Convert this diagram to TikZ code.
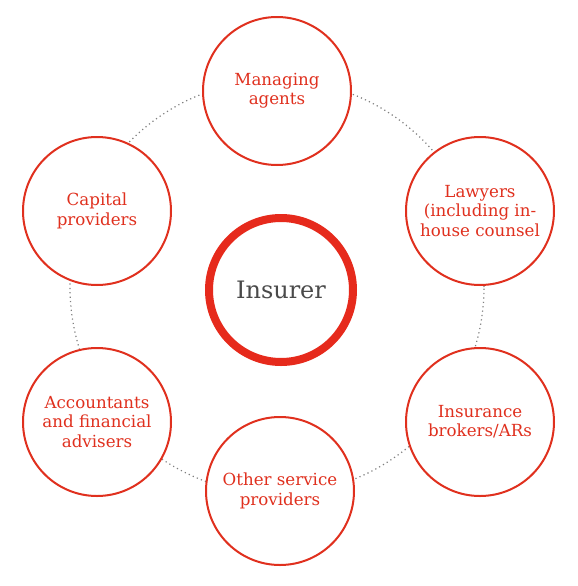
\documentclass[tikz,border=0pt]{standalone}
\usepackage{fontspec}
\setmainfont{DejaVu Serif}
\usepackage{xcolor}
\usetikzlibrary{positioning}

\definecolor{partyred}{HTML}{E0301E}
\definecolor{hubred}{HTML}{E62A1C}
\definecolor{hubgrey}{HTML}{4A4A4A}

\begin{document}
\begin{tikzpicture}[
    x=0.75pt,
    y=-0.75pt,
    party/.style={
        circle,
        draw=partyred,
        line width=1.5pt,
        fill=white,
        minimum size=111pt,
        inner sep=0pt,
        align=center,
        text=partyred,
        font=\fontsize{12.5}{14.5}\selectfont
    },
    hub/.style={
        circle,
        draw=hubred,
        line width=6pt,
        fill=white,
        minimum size=108pt,
        inner sep=0pt,
        align=center,
        text=hubgrey,
        font=\fontsize{18}{20}\selectfont
    },
    ring/.style={draw=gray, line width=0.9pt, dash pattern=on 0.9pt off 2.4pt}
]

\useasboundingbox (0,0) rectangle (578,586);

% dotted ring behind the parties
\coordinate (ringc) at (277,287);
\draw[ring] (ringc) circle[radius=155.25pt];

\node[hub] (insurer) at (281,290) {Insurer};

\node[party] (managing) at (277,91) {Managing\\agents};
\node[party] (lawyers) at (480,211) {Lawyers\\(including in-\\house counsel};
\node[party] (brokers) at (480,422) {Insurance\\brokers/ARs};
\node[party] (other) at (280,491) {Other service\\providers};
\node[party] (accountants) at (97,422) {Accountants\\and financial\\advisers};
\node[party] (capital) at (97,211) {Capital\\providers};

\end{tikzpicture}
\end{document}
